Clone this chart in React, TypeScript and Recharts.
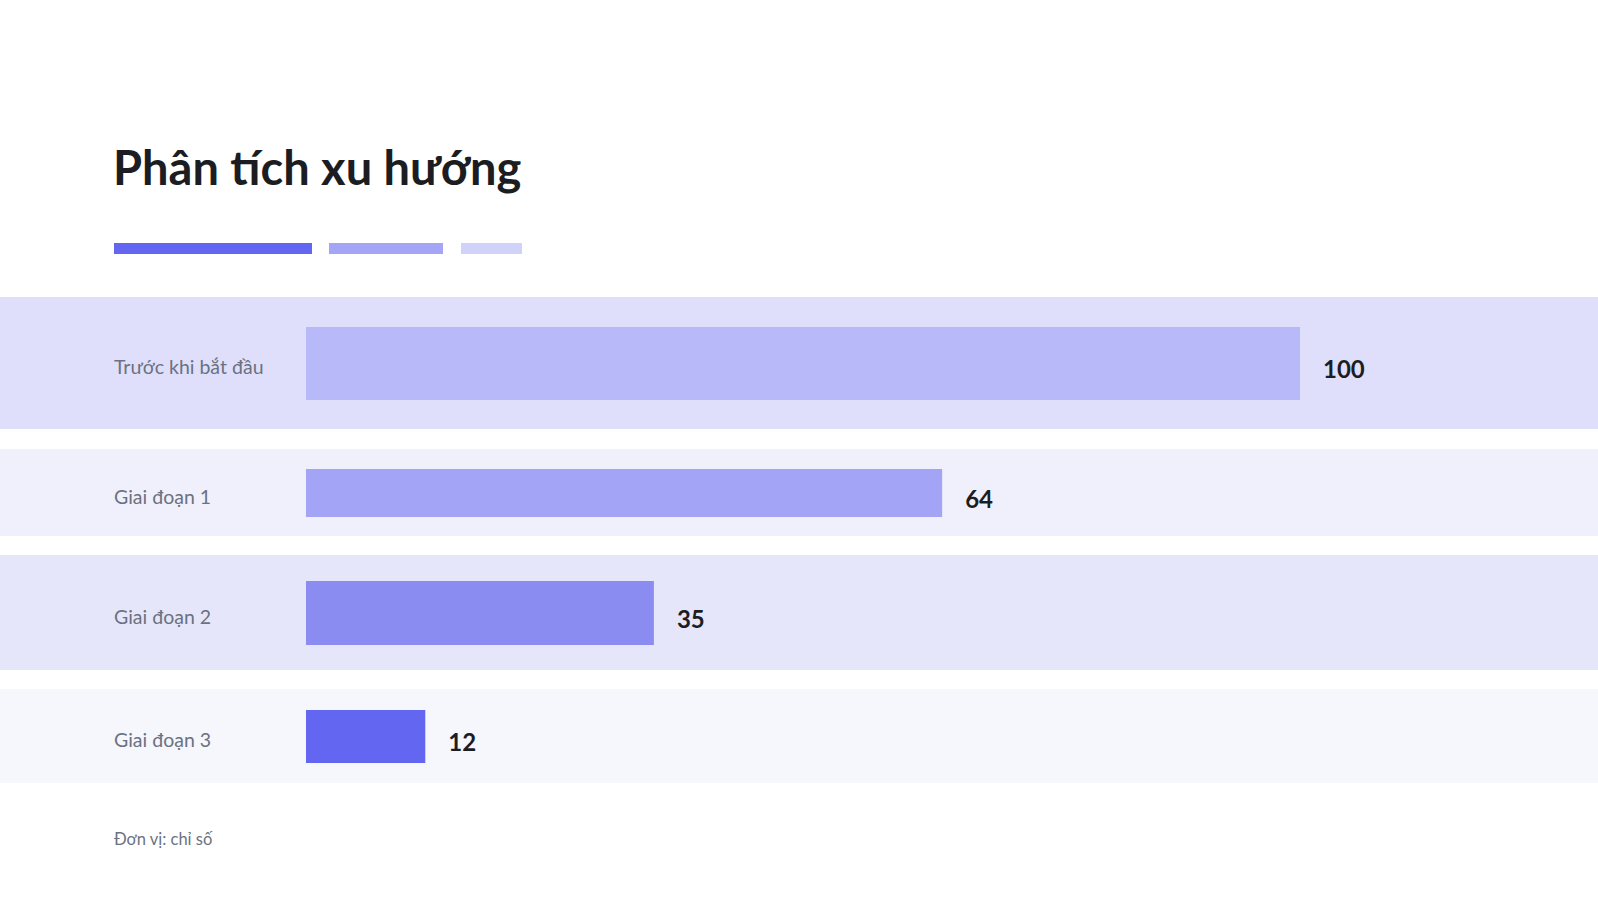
import { Bar, BarChart, Cell, XAxis, YAxis } from "recharts";

const categories = ["Trước khi bắt đầu", "Giai đoạn 1", "Giai đoạn 2", "Giai đoạn 3"];
const values = [100, 64, 35, 12];
const barColors = ["#b8b9f8", "#a3a4f5", "#8b8cf2", "#6366f1"];
const rowColors = ["#dfdffb", "#f0f0fc", "#e6e6fb", "#f6f6fd"];
const legendColors = ["#6366f1", "#a4a5f6", "#d1d2fa"];

// layout of each row: top, band height, bar thickness
const rowTops = [297, 449, 555, 689];
const rowHeights = [132, 87, 115, 94];
const barSizes = [73, 48, 64, 53];
const legendBars = [
  { left: 114, width: 198 },
  { left: 329, width: 114 },
  { left: 461, width: 61 },
];

const maxValue = Math.max(...values);
const FONT = "Lato, 'Noto Sans', sans-serif";

function RowLabel(props: any) {
  const { y, payload } = props;
  return (
    <text x={114} y={y + 11} fill="#6b7280" fontSize={19.5} fontFamily={FONT}>
      {payload.value}
    </text>
  );
}

function ValueLabel(props: any) {
  const { x, y, width, height, value } = props;
  return (
    <text
      x={x + width + 23}
      y={y + height / 2 + 14.5}
      fill="#1c1d22"
      fontSize={24}
      fontWeight={700}
      fontFamily={FONT}
    >
      {value}
    </text>
  );
}

function Row({ index }: { index: number }) {
  const data = [{ name: categories[index], value: values[index] }];
  return (
    <div
      style={{
        position: "absolute",
        left: 0,
        top: rowTops[index],
        width: 1598,
        height: rowHeights[index],
        background: rowColors[index],
      }}
    >
      <BarChart
        layout="vertical"
        width={1598}
        height={rowHeights[index]}
        data={data}
        margin={{ top: 0, right: 298, bottom: 0, left: 0 }}
      >
        <XAxis type="number" domain={[0, maxValue]} hide />
        <YAxis
          type="category"
          dataKey="name"
          width={306}
          axisLine={false}
          tickLine={false}
          tick={RowLabel}
        />
        <Bar
          dataKey="value"
          barSize={barSizes[index]}
          isAnimationActive={false}
          label={ValueLabel}
        >
          <Cell fill={barColors[index]} />
        </Bar>
      </BarChart>
    </div>
  );
}

export default function App() {
  return (
    <div
      style={{
        position: "absolute",
        left: 0,
        top: 0,
        width: 1598,
        height: 900,
        background: "#ffffff",
        overflow: "hidden",
      }}
    >
      <svg width={1598} height={230} style={{ position: "absolute", left: 0, top: 0 }}>
        <text x={113} y={185} fontSize={47} fontWeight={700} fill="#1c1d22" fontFamily={FONT}>
          Phân tích xu hướng
        </text>
      </svg>
      {legendBars.map((b, i) => (
        <div
          key={i}
          style={{
            position: "absolute",
            left: b.left,
            top: 243,
            width: b.width,
            height: 11,
            background: legendColors[i],
          }}
        />
      ))}
      {categories.map((_, i) => (
        <Row key={i} index={i} />
      ))}
      <svg width={1598} height={60} style={{ position: "absolute", left: 0, top: 810 }}>
        <text x={114} y={35} fontSize={16.5} fill="#6b7280" fontFamily={FONT}>
          Đơn vị: chỉ số
        </text>
      </svg>
    </div>
  );
}
